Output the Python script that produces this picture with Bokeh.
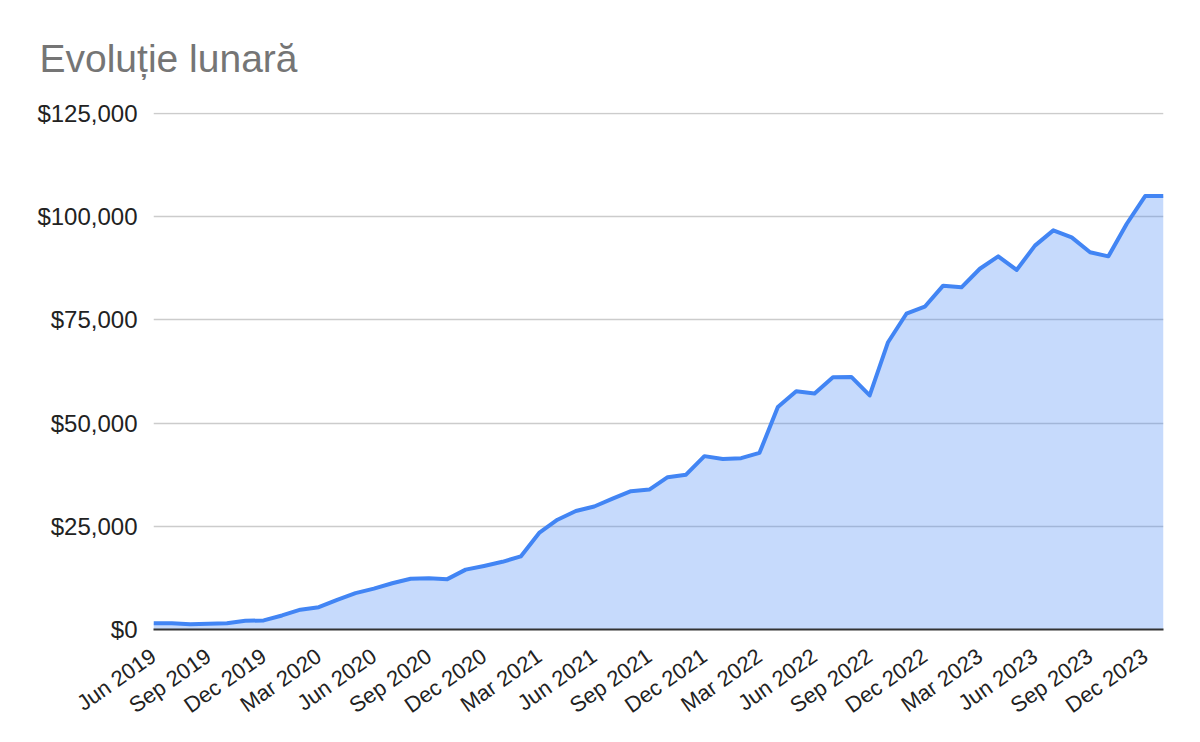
import math
from bokeh.plotting import figure
from bokeh.models import Range1d, FixedTicker, NumeralTickFormatter
from bokeh.embed import file_html
from bokeh.resources import INLINE

title_text = "Evoluție lunară"

# monthly index 0 = Jun 2019 ... 55 = Jan 2024
month_index = list(range(56))
values = [
    1500, 1500, 1300, 1400, 1500, 2100, 2200, 3400, 4800, 5400,
    7200, 8800, 9900, 11200, 12300, 12400, 12200, 14500, 15400, 16400,
    17700, 23400, 26600, 28700, 29800, 31700, 33500, 33900, 36900, 37500,
    42000, 41300, 41500, 42800, 53900, 57700, 57200, 61100, 61200, 56700,
    69600, 76500, 78200, 83300, 82900, 87400, 90400, 87100, 93000, 96700,
    95000, 91400, 90400, 98300, 105000, 105000,
]

tick_positions = [0, 3, 6, 9, 12, 15, 18, 21, 24, 27, 30, 33, 36, 39, 42, 45, 48, 51, 54]
tick_labels = [
    "Jun 2019", "Sep 2019", "Dec 2019", "Mar 2020", "Jun 2020", "Sep 2020",
    "Dec 2020", "Mar 2021", "Jun 2021", "Sep 2021", "Dec 2021", "Mar 2022",
    "Jun 2022", "Sep 2022", "Dec 2022", "Mar 2023", "Jun 2023", "Sep 2023",
    "Dec 2023",
]
y_ticks = [0, 25000, 50000, 75000, 100000, 125000]

FONT = "Liberation Sans"

p = figure(
    width=1184, height=731,
    output_backend="svg", toolbar_location=None,
    x_range=Range1d(0, 55), y_range=Range1d(0, 125250),
    min_border_left=153, min_border_right=21,
    min_border_top=112, min_border_bottom=102,
)
p.outline_line_color = None
p.background_fill_color = "white"
p.border_fill_color = "white"

p.title.text = title_text
p.title.text_font = FONT
p.title.text_font_size = "39px"
p.title.text_font_style = "normal"
p.title.text_color = "#757575"
p.title.align = "left"
p.title.offset = -114
p.title.standoff = 65

# grid
p.xgrid.grid_line_color = None
p.ygrid.grid_line_color = "#cccccc"
p.ygrid.grid_line_width = 1.5
p.ygrid.ticker = FixedTicker(ticks=y_ticks)

# area + line
p.varea(x=month_index, y1=0, y2=values, fill_color="#4285f4", fill_alpha=0.3)
p.line(x=month_index, y=values, line_color="#4285f4", line_width=4, line_join="round")

# y axis
yax = p.yaxis[0]
yax.ticker = FixedTicker(ticks=y_ticks)
yax.formatter = NumeralTickFormatter(format="$0,0")
yax.axis_line_color = None
yax.major_tick_line_color = None
yax.minor_tick_line_color = None
yax.major_label_text_font = FONT
yax.major_label_text_font_size = "24px"
yax.major_label_text_color = "#222222"
yax.major_label_standoff = 10

# x axis
xax = p.xaxis[0]
xax.ticker = FixedTicker(ticks=tick_positions)
xax.major_label_overrides = {t: l for t, l in zip(tick_positions, tick_labels)}
xax.axis_line_color = "#333333"
xax.axis_line_width = 2
xax.major_tick_line_color = None
xax.minor_tick_line_color = None
xax.major_label_orientation = 35 * math.pi / 180
xax.major_label_text_font = FONT
xax.major_label_text_font_size = "22px"
xax.major_label_text_color = "#222222"
xax.major_label_standoff = 18

open("out.html", "w").write(file_html(p, INLINE))
